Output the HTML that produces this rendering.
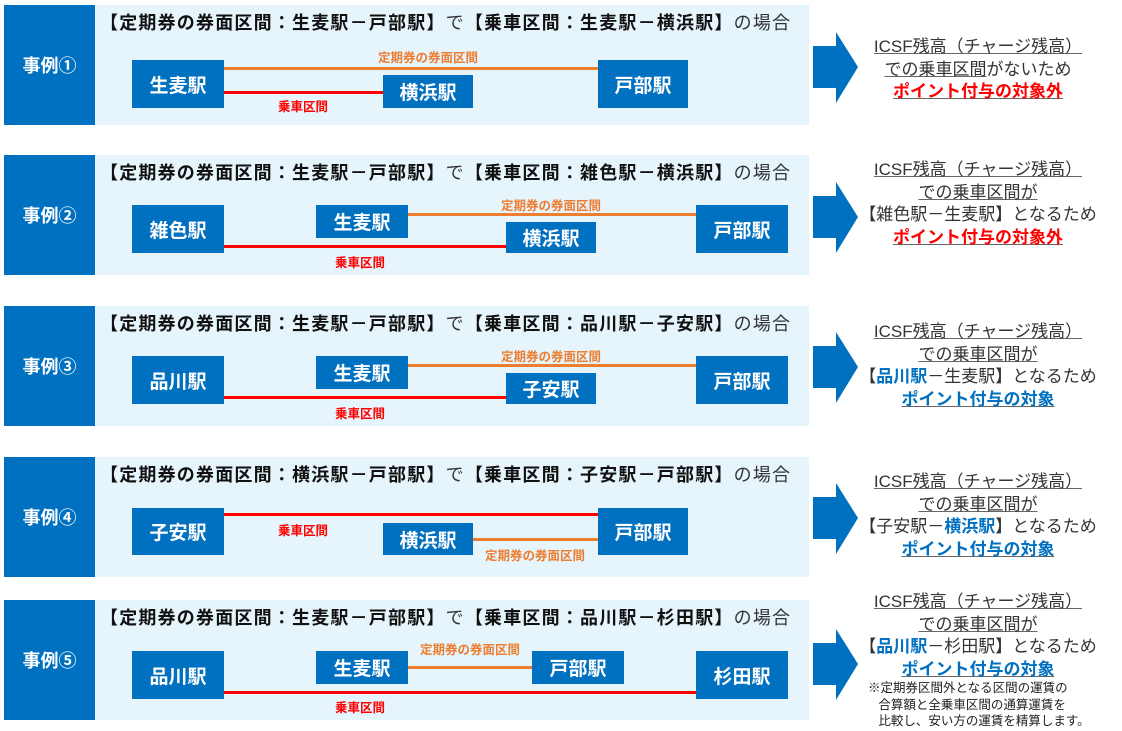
<!DOCTYPE html>
<html><head><meta charset="utf-8"><style>
*{margin:0;padding:0;box-sizing:border-box}
body{width:1122px;height:731px;background:#fff;position:relative;overflow:hidden;font-family:"Liberation Sans","Noto Sans CJK JP",sans-serif}
.a{position:absolute}
.bg{position:absolute;left:4px;width:805px;height:120px;background:#E6F5FB}
.lab{position:absolute;left:4px;width:91px;height:120px;background:#0070C0;color:#fff;font-weight:bold;font-size:18px;display:flex;align-items:center;justify-content:center}
.ttl{position:absolute;left:100px;font-size:18px;font-weight:bold;color:#111;white-space:nowrap;letter-spacing:1.2px}
.ttl span{font-weight:normal;color:#333}
.st{position:absolute;background:#0070C0;color:#fff;font-weight:bold;font-size:19px;display:flex;align-items:center;justify-content:center}
.ln{position:absolute;height:3px}
.o{background:#ED7D31}.r{background:#FF0000}
.lo,.lr{position:absolute;font-size:12.5px;font-weight:bold;white-space:nowrap;transform:translateX(-50%)}
.lo{color:#ED7D31}.lr{color:#FF0000}
.rt{position:absolute;left:848px;width:260px;text-align:center;font-size:17px;color:#333;line-height:22.5px;white-space:nowrap}
.rt u{text-decoration-color:#666}
.red{color:#FF0000;font-weight:bold}
.blu{color:#0070C0;font-weight:bold}
.note{position:absolute;left:868px;font-size:12.5px;color:#222;line-height:16.5px;white-space:nowrap}
</style></head><body>

<svg class="a" style="left:0;top:0" width="1122" height="731">
<g fill="#0070C0">
<polygon points="813,46 836,46 836,32 858,67 836,103 836,88 813,88"/>
<polygon points="813,196 836,196 836,182 858,217 836,253 836,238 813,238"/>
<polygon points="813,346 836,346 836,332 858,367 836,403 836,388 813,388"/>
<polygon points="813,497 836,497 836,483 858,518 836,554 836,539 813,539"/>
<polygon points="813,643 836,643 836,629 858,664 836,700 836,685 813,685"/>
</g></svg>

<div class="bg" style="top:5px"></div><div class="lab" style="top:5px">事例①</div>
<div class="ttl" style="top:9px">【定期券の券面区間：生麦駅－戸部駅】<span>で</span>【乗車区間：生麦駅－横浜駅】<span>の場合</span></div>
<div class="ln o" style="left:224px;top:67px;width:374px"></div>
<div class="lo" style="left:428px;top:47px">定期券の券面区間</div>
<div class="ln r" style="left:224px;top:91px;width:159px"></div>
<div class="lr" style="left:303px;top:96px">乗車区間</div>
<div class="st" style="left:132px;top:60px;width:92px;height:48px">生麦駅</div>
<div class="st" style="left:383px;top:75px;width:90px;height:33px">横浜駅</div>
<div class="st" style="left:598px;top:60px;width:90px;height:48px">戸部駅</div>
<div class="rt" style="top:36px"><u>ICSF残高（チャージ残高）</u><br><u>での乗車区間</u>がないため<br><u class="red">ポイント付与の対象外</u></div>

<div class="bg" style="top:155px"></div><div class="lab" style="top:155px">事例②</div>
<div class="ttl" style="top:159px">【定期券の券面区間：生麦駅－戸部駅】<span>で</span>【乗車区間：雑色駅－横浜駅】<span>の場合</span></div>
<div class="ln o" style="left:408px;top:213px;width:288px"></div>
<div class="lo" style="left:551px;top:195px">定期券の券面区間</div>
<div class="ln r" style="left:224px;top:245px;width:282px"></div>
<div class="lr" style="left:360px;top:252px">乗車区間</div>
<div class="st" style="left:132px;top:205px;width:92px;height:48px">雑色駅</div>
<div class="st" style="left:316px;top:205px;width:92px;height:33px">生麦駅</div>
<div class="st" style="left:506px;top:222px;width:90px;height:31px">横浜駅</div>
<div class="st" style="left:696px;top:205px;width:92px;height:48px">戸部駅</div>
<div class="rt" style="top:159px"><u>ICSF残高（チャージ残高）</u><br><u>での乗車区間が</u><br>【雑色駅－生麦駅】となるため<br><u class="red">ポイント付与の対象外</u></div>

<div class="bg" style="top:306px"></div><div class="lab" style="top:306px">事例③</div>
<div class="ttl" style="top:310px">【定期券の券面区間：生麦駅－戸部駅】<span>で</span>【乗車区間：品川駅－子安駅】<span>の場合</span></div>
<div class="ln o" style="left:408px;top:364px;width:288px"></div>
<div class="lo" style="left:551px;top:346px">定期券の券面区間</div>
<div class="ln r" style="left:224px;top:396px;width:282px"></div>
<div class="lr" style="left:360px;top:403px">乗車区間</div>
<div class="st" style="left:132px;top:356px;width:92px;height:48px">品川駅</div>
<div class="st" style="left:316px;top:356px;width:92px;height:33px">生麦駅</div>
<div class="st" style="left:506px;top:373px;width:90px;height:31px">子安駅</div>
<div class="st" style="left:696px;top:356px;width:92px;height:48px">戸部駅</div>
<div class="rt" style="top:321px"><u>ICSF残高（チャージ残高）</u><br><u>での乗車区間が</u><br>【<b class="blu">品川駅</b>－生麦駅】となるため<br><u class="blu">ポイント付与の対象</u></div>

<div class="bg" style="top:457px"></div><div class="lab" style="top:457px">事例④</div>
<div class="ttl" style="top:461px">【定期券の券面区間：横浜駅－戸部駅】<span>で</span>【乗車区間：子安駅－戸部駅】<span>の場合</span></div>
<div class="ln r" style="left:224px;top:513px;width:374px"></div>
<div class="lr" style="left:303px;top:520px">乗車区間</div>
<div class="ln o" style="left:473px;top:538px;width:125px"></div>
<div class="lo" style="left:535px;top:545px">定期券の券面区間</div>
<div class="st" style="left:132px;top:508px;width:92px;height:47px">子安駅</div>
<div class="st" style="left:383px;top:523px;width:90px;height:32px">横浜駅</div>
<div class="st" style="left:598px;top:508px;width:90px;height:47px">戸部駅</div>
<div class="rt" style="top:471px"><u>ICSF残高（チャージ残高）</u><br><u>での乗車区間が</u><br>【子安駅－<b class="blu">横浜駅</b>】となるため<br><u class="blu">ポイント付与の対象</u></div>

<div class="bg" style="top:600px"></div><div class="lab" style="top:600px">事例⑤</div>
<div class="ttl" style="top:604px">【定期券の券面区間：生麦駅－戸部駅】<span>で</span>【乗車区間：品川駅－杉田駅】<span>の場合</span></div>
<div class="ln o" style="left:408px;top:666px;width:124px"></div>
<div class="lo" style="left:470px;top:639px">定期券の券面区間</div>
<div class="ln r" style="left:224px;top:691px;width:472px"></div>
<div class="lr" style="left:360px;top:697px">乗車区間</div>
<div class="st" style="left:132px;top:651px;width:92px;height:48px">品川駅</div>
<div class="st" style="left:316px;top:651px;width:92px;height:33px">生麦駅</div>
<div class="st" style="left:532px;top:651px;width:92px;height:33px">戸部駅</div>
<div class="st" style="left:696px;top:651px;width:92px;height:48px">杉田駅</div>
<div class="rt" style="top:591px"><u>ICSF残高（チャージ残高）</u><br><u>での乗車区間が</u><br>【<b class="blu">品川駅</b>－杉田駅】となるため<br><u class="blu">ポイント付与の対象</u></div>
<div class="note" style="top:680px">※定期券区間外となる区間の運賃の<br>&nbsp;&nbsp;&nbsp;合算額と全乗車区間の通算運賃を<br>&nbsp;&nbsp;&nbsp;比較し、安い方の運賃を精算します。</div>

</body></html>
